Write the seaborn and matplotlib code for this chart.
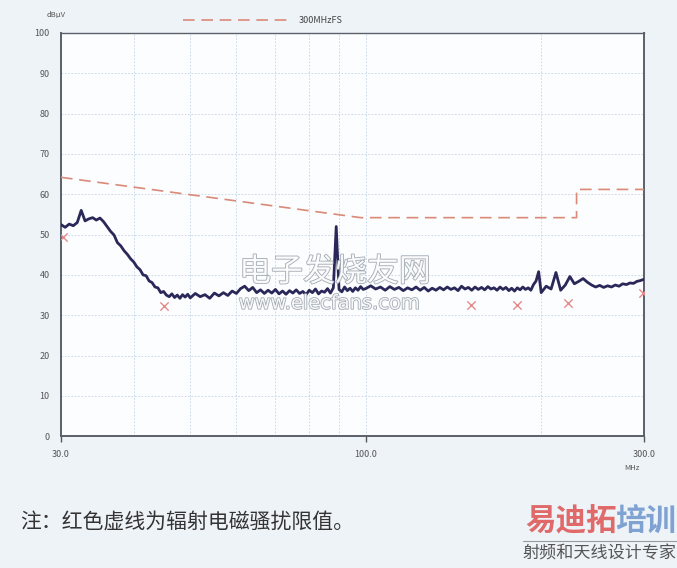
import numpy as np
import pandas as pd
import matplotlib.pyplot as plt
import matplotlib.patheffects as pe
import seaborn as sns

# measured trace (dBuV), sweep grid in MHz per segment
seg1_freq = np.arange(30.0, 50.0, 0.5)
seg1_level = [52.5, 51.8, 52.6, 52.2, 53.0, 56.0, 53.4, 53.9, 54.2, 53.6,
              54.1, 53.2, 52.0, 50.8, 49.9, 48.0, 47.2, 46.0, 45.1, 44.0,
              43.2, 42.0, 41.3, 40.0, 39.8, 38.5, 38.1, 37.0, 36.8, 35.6,
              35.9, 35.0, 34.6, 35.3, 34.4, 35.0, 34.2, 35.1, 34.5, 35.2]
seg2_freq = np.arange(50.0, 100.0, 1.0)
seg2_level = [34.3, 35.4, 34.6, 35.1, 34.2, 35.5, 34.8, 35.6, 34.9, 36.0,
              35.4, 36.6, 37.2, 36.1, 36.9, 35.6, 36.3, 35.4, 36.2, 35.5,
              36.4, 35.3, 36.0, 35.2, 36.1, 35.5, 36.3, 35.4, 35.9, 35.1,
              36.2, 35.6, 36.5, 35.3, 36.0, 35.7, 36.6, 35.5, 36.8, 52.0,
              36.4, 35.8, 37.0, 36.1, 36.7, 35.9, 36.8, 36.2, 37.1, 36.4]
seg3_freq = np.arange(100.0, 200.0, 2.0)
seg3_level = [36.6, 37.3, 36.5, 37.0, 36.2, 37.1, 36.4, 36.9, 36.1, 36.8,
              36.3, 37.0, 36.2, 36.9, 36.0, 36.7, 36.2, 36.9, 36.3, 37.0,
              36.4, 36.8, 36.1, 37.2, 36.5, 36.9, 36.2, 37.0, 36.4, 36.9,
              36.3, 37.1, 36.5, 36.8, 36.2, 37.0, 36.4, 36.9, 36.1, 36.7,
              36.0, 36.8, 36.3, 37.0, 36.4, 36.8, 36.2, 37.6, 38.5, 40.8]
seg4_freq = np.arange(200.0, 301.0, 4.0)
seg4_level = [35.6, 37.2, 36.5, 40.6, 36.2, 37.5, 39.6, 37.8, 38.4, 39.1,
              38.2, 37.5, 37.0, 37.4, 36.9, 37.3, 37.0, 37.5, 37.2, 37.8,
              37.6, 38.0, 37.9, 38.4, 38.6, 38.9]

# limit line
limit_freq = [30, 98, 230, 230, 300]
limit_level = [64.2, 54.2, 54.2, 61.2, 61.2]

# quasi-peak points
qp_freq = [30.2, 45.1, 151.7, 181.5, 222.0, 299.0]
qp_level = [49.5, 32.3, 32.5, 32.5, 33.0, 35.5]

x_ticks = [30, 100, 300]
x_labels = ["30.0", "100.0", "300.0"]
y_ticks = list(range(0, 101, 10))

trace = pd.DataFrame({
    "freq": np.concatenate([seg1_freq, seg2_freq, seg3_freq, seg4_freq]),
    "level": seg1_level + seg2_level + seg3_level + seg4_level,
})

sns.set_theme(style="white")
plt.rcParams['font.family'] = ['Noto Sans CJK SC', 'DejaVu Sans']

fig = plt.figure(figsize=(6.77, 5.68), dpi=100, facecolor="#eef3f8")
ax = fig.add_axes([0.090, 0.232, 0.861, 0.710])
ax.set_facecolor("#fcfdfe")

ax.plot(limit_freq, limit_level, color="#d98a78", lw=1.2, dashes=(7, 4),
        label="300MHzFS", zorder=3)
sns.lineplot(data=trace, x="freq", y="level", sort=False, estimator=None,
             color="#2a2858", lw=2.0, ax=ax, zorder=4)
ax.scatter(qp_freq, qp_level, marker="x", s=36, color="#e48a8a",
           linewidths=1.0, zorder=5)

ax.set_xscale("log")
ax.set_xlim(30, 300)
ax.set_ylim(0, 100)
ax.set_xticks(x_ticks)
ax.set_xticklabels(x_labels)
ax.set_xticks([40, 50, 60, 70, 80, 90, 200], minor=True)
ax.xaxis.set_minor_formatter(plt.NullFormatter())
ax.set_yticks(y_ticks)
ax.set_xlabel("")
ax.set_ylabel("")
ax.grid(True, which="both", color="#c3d2e3", lw=0.6, ls=(0, (2, 2)))
ax.tick_params(axis="x", which="major", length=4, width=1, color="#555555",
               labelsize=6.5, labelcolor="#555555", pad=6, bottom=True)
ax.tick_params(axis="x", which="minor", length=0)
ax.tick_params(axis="y", length=0, labelsize=6.5, labelcolor="#555555", pad=8)
for side, sp in ax.spines.items():
    sp.set_color("#5a5f6a")
    sp.set_linewidth(1.4 if side in ("left", "right", "bottom") else 1.0)

ax.legend(loc="lower left", bbox_to_anchor=(0.204, 1.01), frameon=False,
          handlelength=12, fontsize=6.5, borderaxespad=0, handletextpad=0.8,
          labelcolor="#444444")
ax.text(-0.025, 1.035, "dBμV", transform=ax.transAxes, fontsize=5.5,
        color="#555555", ha="left", va="bottom")
ax.text(0.98, -0.07, "MHz", transform=ax.transAxes, fontsize=5.5,
        color="#555555", ha="center", va="top")

# watermark
wm = [pe.withStroke(linewidth=1.2, foreground="#9aa3ad")]
fig.text(0.495, 0.521, "电子发烧友网", fontsize=23, style="italic", color="white",
         ha="center", va="center", path_effects=wm, alpha=0.9)
fig.text(0.487, 0.466, "www.elecfans.com", fontsize=14, family="DejaVu Sans",
         color="white", ha="center", va="center", path_effects=wm, alpha=0.9)

# caption and logo
fig.text(0.03, 0.082, "注：红色虚线为辐射电磁骚扰限值。", fontsize=15,
         color="#333333", ha="left", va="center")
fig.text(0.911, 0.082, "易迪拓", fontsize=22, fontweight="bold",
         color="#e06a6a", ha="right", va="center")
fig.text(0.909, 0.082, "培训", fontsize=22, fontweight="bold",
         color="#7fa2d2", ha="left", va="center")
fig.add_artist(plt.Line2D([0.772, 1.0], [0.048, 0.048], color="#999999",
                          lw=0.8, transform=fig.transFigure))
fig.text(0.772, 0.025, "射频和天线设计专家", fontsize=12.3, color="#555555",
         ha="left", va="center")

fig.savefig("out.png", dpi=100, facecolor=fig.get_facecolor())
